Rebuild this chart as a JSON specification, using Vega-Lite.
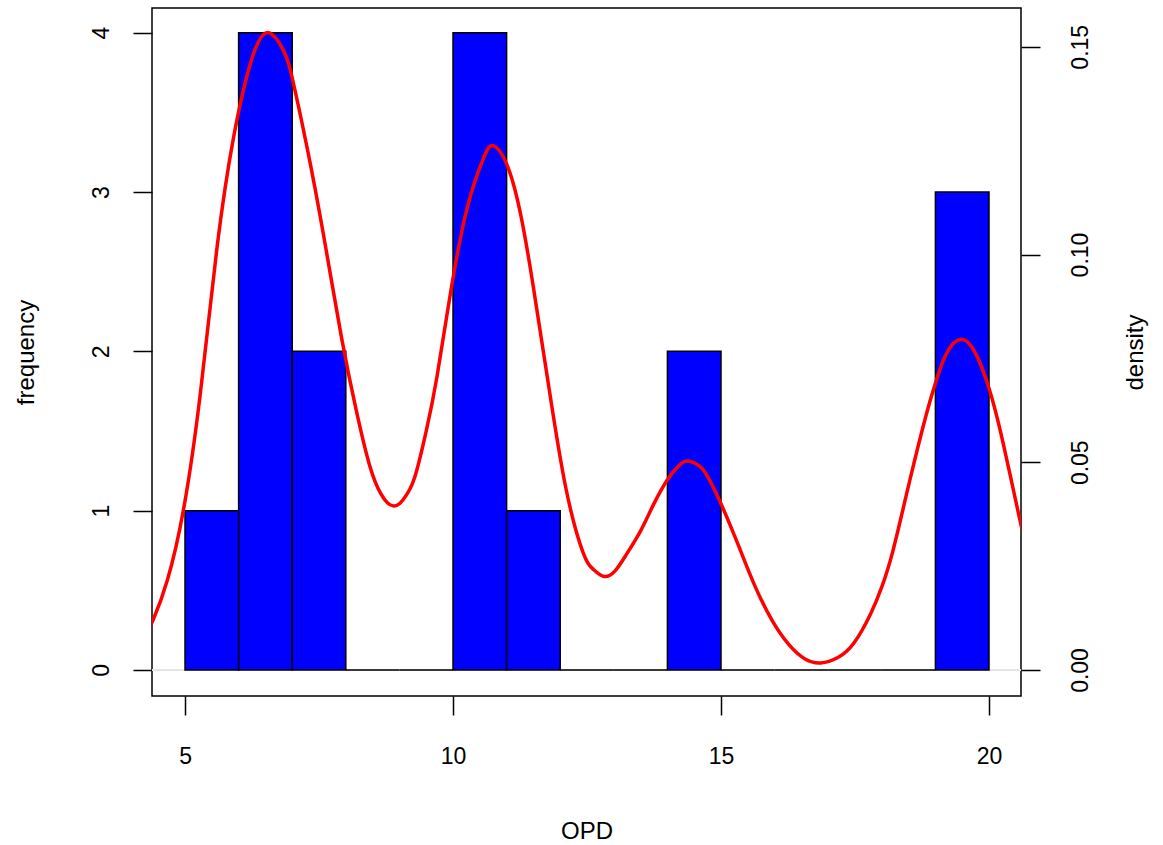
{
  "$schema": "https://vega.github.io/schema/vega-lite/v6.json",
  "width": 869,
  "height": 688,
  "autosize": {"type": "none"},
  "padding": {"left": 152, "top": 8, "right": 142, "bottom": 149},
  "background": "white",
  "datasets": {
    "hist": [
      {"start": 5, "end": 6, "count": 1},
      {"start": 6, "end": 7, "count": 4},
      {"start": 7, "end": 8, "count": 2},
      {"start": 8, "end": 9, "count": 0},
      {"start": 9, "end": 10, "count": 0},
      {"start": 10, "end": 11, "count": 4},
      {"start": 11, "end": 12, "count": 1},
      {"start": 12, "end": 13, "count": 0},
      {"start": 13, "end": 14, "count": 0},
      {"start": 14, "end": 15, "count": 2},
      {"start": 15, "end": 16, "count": 0},
      {"start": 16, "end": 17, "count": 0},
      {"start": 17, "end": 18, "count": 0},
      {"start": 18, "end": 19, "count": 0},
      {"start": 19, "end": 20, "count": 3}
    ],
    "dens": [
      {"x": 4.33, "density": 0.0101},
      {"x": 4.41, "density": 0.0122},
      {"x": 4.67, "density": 0.0216},
      {"x": 4.98, "density": 0.0392},
      {"x": 5.29, "density": 0.0670},
      {"x": 5.60, "density": 0.1020},
      {"x": 5.91, "density": 0.1285},
      {"x": 6.22, "density": 0.1460},
      {"x": 6.53, "density": 0.1534},
      {"x": 6.84, "density": 0.1490},
      {"x": 7.00, "density": 0.1425},
      {"x": 7.27, "density": 0.1262},
      {"x": 7.58, "density": 0.1050},
      {"x": 7.92, "density": 0.0800},
      {"x": 8.20, "density": 0.0622},
      {"x": 8.45, "density": 0.0490},
      {"x": 8.65, "density": 0.0425},
      {"x": 8.78, "density": 0.0402},
      {"x": 8.88, "density": 0.0395},
      {"x": 9.00, "density": 0.0400},
      {"x": 9.15, "density": 0.0425},
      {"x": 9.30, "density": 0.0470},
      {"x": 9.50, "density": 0.0575},
      {"x": 9.70, "density": 0.0705},
      {"x": 9.95, "density": 0.0905},
      {"x": 10.26, "density": 0.1110},
      {"x": 10.57, "density": 0.1232},
      {"x": 10.75, "density": 0.1262},
      {"x": 11.00, "density": 0.1218},
      {"x": 11.25, "density": 0.1104},
      {"x": 11.49, "density": 0.0929},
      {"x": 11.80, "density": 0.0671},
      {"x": 12.11, "density": 0.0435},
      {"x": 12.42, "density": 0.0285},
      {"x": 12.62, "density": 0.0242},
      {"x": 12.82, "density": 0.0225},
      {"x": 13.02, "density": 0.0238},
      {"x": 13.22, "density": 0.0275},
      {"x": 13.50, "density": 0.0335},
      {"x": 13.74, "density": 0.0398},
      {"x": 14.00, "density": 0.0458},
      {"x": 14.20, "density": 0.0490},
      {"x": 14.36, "density": 0.0503},
      {"x": 14.55, "density": 0.0495},
      {"x": 14.72, "density": 0.0472},
      {"x": 15.00, "density": 0.0400},
      {"x": 15.34, "density": 0.0295},
      {"x": 15.64, "density": 0.0200},
      {"x": 15.95, "density": 0.0120},
      {"x": 16.26, "density": 0.0062},
      {"x": 16.56, "density": 0.0027},
      {"x": 16.86, "density": 0.0017},
      {"x": 17.18, "density": 0.0030},
      {"x": 17.48, "density": 0.0065},
      {"x": 17.79, "density": 0.0135},
      {"x": 18.00, "density": 0.0200},
      {"x": 18.21, "density": 0.0288},
      {"x": 18.52, "density": 0.0455},
      {"x": 18.83, "density": 0.0615},
      {"x": 19.00, "density": 0.0690},
      {"x": 19.20, "density": 0.0760},
      {"x": 19.48, "density": 0.0796},
      {"x": 19.75, "density": 0.0762},
      {"x": 20.00, "density": 0.0678},
      {"x": 20.25, "density": 0.0554},
      {"x": 20.57, "density": 0.0365},
      {"x": 20.66, "density": 0.0318}
    ]
  },
  "layer": [
    {
      "data": {"name": "hist"},
      "layer": [
        {
          "mark": {"type": "rule", "color": "#e4e4e4", "strokeWidth": 1},
          "encoding": {
            "y": {"datum": 0, "type": "quantitative"}
          }
        },
        {
          "mark": {"type": "rect", "fill": "#0000FF", "stroke": "black", "strokeWidth": 1.5},
          "encoding": {
            "x": {
              "field": "start",
              "type": "quantitative",
              "scale": {"domain": [4.384, 20.597], "nice": false, "zero": false},
              "axis": {
                "values": [5, 10, 15, 20],
                "labelPadding": 48,
                "labelBaseline": "alphabetic",
                "labelAlign": "center",
                "labelAngle": 0,
                "title": "OPD",
                "titleX": 434.5,
                "titleY": 142,
                "titleAlign": "center",
                "titleBaseline": "alphabetic"
              }
            },
            "x2": {"field": "end"},
            "y": {
              "field": "count",
              "type": "quantitative",
              "scale": {"domain": [-0.1633, 4.155], "nice": false, "zero": false},
              "axis": {
                "orient": "left",
                "values": [0, 1, 2, 3, 4],
                "format": "d",
                "labelAngle": 270,
                "labelAlign": "center",
                "labelBaseline": "alphabetic",
                "labelPadding": 25,
                "title": "frequency",
                "titleAngle": 270,
                "titleX": -119,
                "titleY": 344,
                "titleAlign": "center",
                "titleBaseline": "alphabetic"
              }
            },
            "y2": {"datum": 0}
          }
        }
      ]
    },
    {
      "data": {"name": "dens"},
      "mark": {"type": "line", "color": "#FF0000", "strokeWidth": 3.5, "interpolate": "natural", "clip": true},
      "encoding": {
        "x": {
          "field": "x",
          "type": "quantitative",
          "scale": {"domain": [4.384, 20.597], "nice": false, "zero": false},
          "title": "OPD"
        },
        "y": {
          "field": "density",
          "type": "quantitative",
          "scale": {"domain": [-0.00626, 0.15933], "nice": false, "zero": false},
          "axis": {
            "orient": "right",
            "values": [0, 0.05, 0.1, 0.15],
            "format": ".2f",
            "labelAngle": 270,
            "labelAlign": "center",
            "labelBaseline": "alphabetic",
            "labelPadding": 47,
            "title": "density",
            "titleAngle": 270,
            "titleX": 121,
            "titleY": 344,
            "titleAlign": "center",
            "titleBaseline": "alphabetic"
          }
        }
      }
    }
  ],
  "resolve": {"scale": {"y": "independent"}},
  "config": {
    "view": {"stroke": "black", "strokeWidth": 1.5},
    "axis": {
      "domain": false,
      "grid": false,
      "ticks": true,
      "tickColor": "black",
      "tickWidth": 1.5,
      "tickSize": 19,
      "labelFont": "Liberation Sans",
      "labelFontSize": 23,
      "labelColor": "black",
      "labelFlush": false,
      "labelOverlap": false,
      "titleFont": "Liberation Sans",
      "titleFontSize": 24,
      "titleFontWeight": "normal",
      "titleColor": "black"
    }
  }
}
